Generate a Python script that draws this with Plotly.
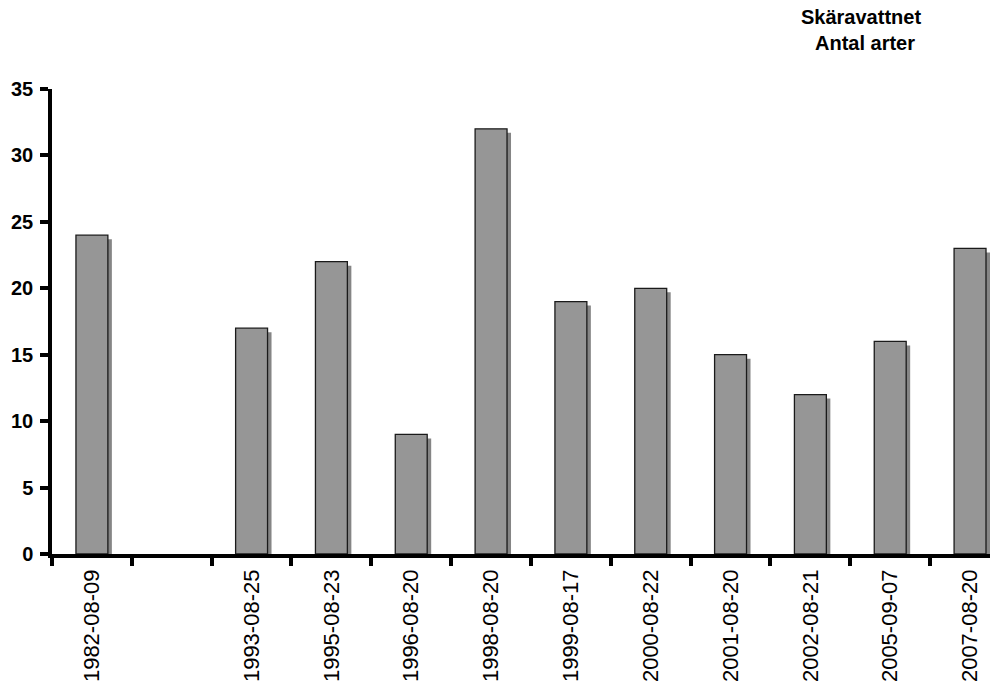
import plotly.graph_objects as go

# Sampling dates (one empty slot left between 1982 and 1993) and species counts
dates = ["1982-08-09", " ", "1993-08-25", "1995-08-23", "1996-08-20", "1998-08-20",
         "1999-08-17", "2000-08-22", "2001-08-20", "2002-08-21", "2005-09-07", "2007-08-20"]
antal_arter = [24, None, 17, 22, 9, 32, 19, 20, 15, 12, 16, 23]

title_lines = ["Skäravattnet", "Antal arter"]
y_ticks = [0, 5, 10, 15, 20, 25, 30, 35]

W, H = 1001, 688
left, right, top, bottom = 52, 11, 89, 134
plot_h = H - top - bottom

# drop shadow: shifted right and down by a few pixels
shadow_drop = 4 * 35 / plot_h
shadow = [None if v is None else v - shadow_drop for v in antal_arter]

fig = go.Figure()
fig.add_trace(go.Bar(
    x=dates, y=shadow, width=0.4, offset=-0.15,
    marker=dict(color="#858585", line=dict(width=0)),
    hoverinfo="skip", showlegend=False,
))
fig.add_trace(go.Bar(
    x=dates, y=antal_arter, width=0.4, offset=-0.2,
    marker=dict(color="#969696", line=dict(color="#1a1a1a", width=1.3)),
    showlegend=False,
))

fig.update_layout(
    width=W, height=H,
    margin=dict(l=left, r=right, t=top, b=bottom, pad=0),
    paper_bgcolor="white", plot_bgcolor="white",
    barmode="overlay",
    font=dict(family="Liberation Sans, Arial, sans-serif", color="black"),
    xaxis=dict(
        type="category", categoryorder="array", categoryarray=dates,
        range=[-0.5, 11.25], automargin=False,
        showline=True, linecolor="black", linewidth=3.5,
        ticks="outside", tickson="boundaries", ticklen=8, tickwidth=3.5, tickcolor="black",
        tickangle=-90, tickfont=dict(size=22, color="black"), ticklabelstandoff=3,
        showgrid=False, zeroline=False,
    ),
    yaxis=dict(
        range=[0, 35], tickvals=y_ticks, automargin=False,
        showline=True, linecolor="black", linewidth=3.5,
        ticks="outside", ticklen=8, tickwidth=3.5, tickcolor="black",
        tickfont=dict(size=20, color="black", weight="bold"), ticklabelstandoff=3,
        showgrid=False, zeroline=False,
    ),
)

for i, (line, py) in enumerate(zip(title_lines, [17, 43])):
    fig.add_annotation(
        text="<b>%s</b>" % line, showarrow=False,
        xref="paper", yref="paper",
        x=(861 + 4 * i - left) / (W - left - right), y=(H - bottom - py) / plot_h,
        xanchor="center", yanchor="middle",
        font=dict(size=20, color="black"),
    )

fig.write_html("out.html")
